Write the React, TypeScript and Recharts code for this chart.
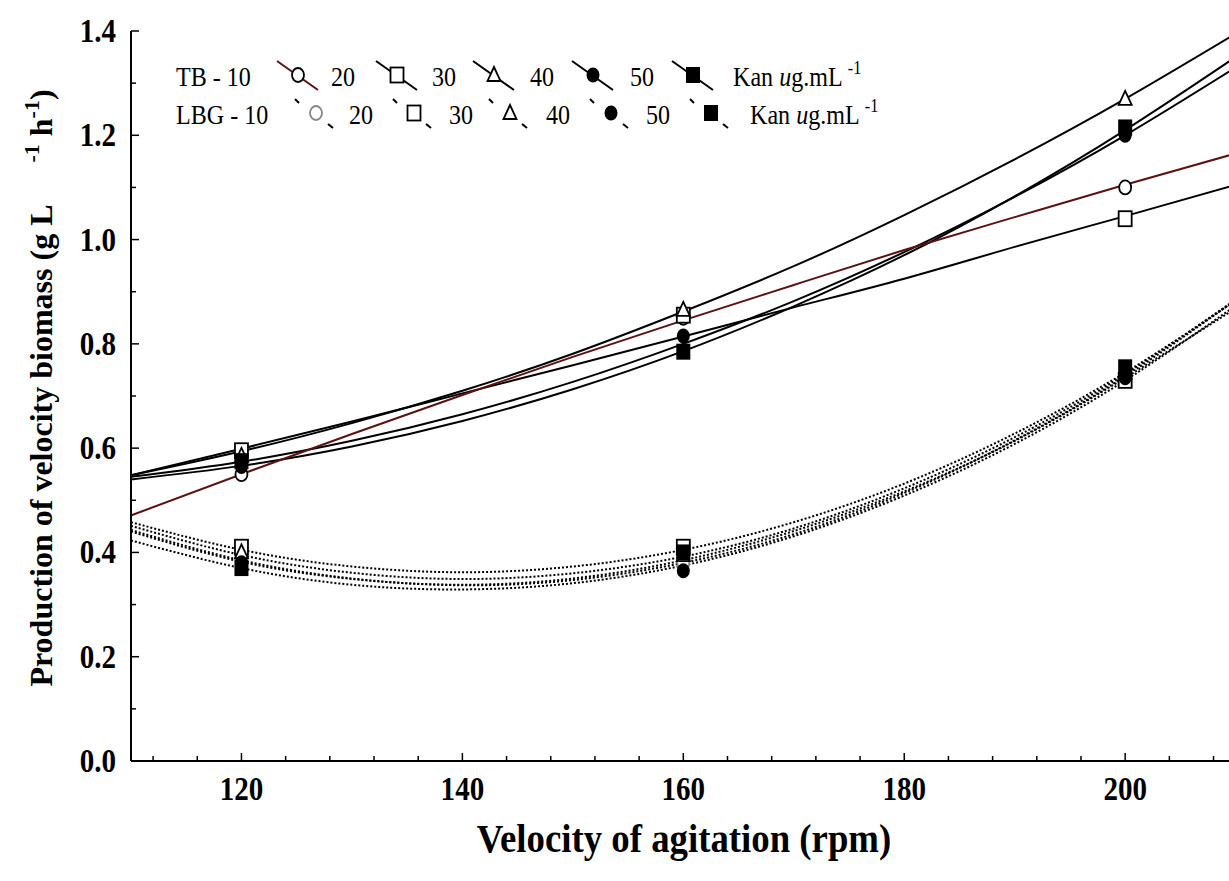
import React from 'react';
import { ComposedChart, Line, Scatter, XAxis, YAxis, Legend } from 'recharts';

const FONT = '"Liberation Serif", "Times New Roman", serif';

// sampled x positions of the fitted curves (rpm)
const curveX = [110, 120, 130, 140, 150, 160, 170, 180, 190, 200, 210];
// TB fitted curves (solid)
const tbCurve10 = [0.471, 0.55, 0.627, 0.702, 0.775, 0.845, 0.913, 0.98, 1.043, 1.105, 1.165];
const tbCurve20 = [0.548, 0.599, 0.651, 0.705, 0.759, 0.814, 0.87, 0.925, 0.986, 1.045, 1.105];
const tbCurve30 = [0.548, 0.594, 0.648, 0.71, 0.781, 0.862, 0.949, 1.047, 1.154, 1.27, 1.395];
const tbCurve40 = [0.54, 0.566, 0.603, 0.652, 0.713, 0.786, 0.872, 0.97, 1.083, 1.21, 1.35];
const tbCurve50 = [0.545, 0.574, 0.614, 0.665, 0.727, 0.8, 0.882, 0.976, 1.082, 1.2, 1.33];
// LBG fitted curves (dotted)
const lbgCurve10 = [0.451, 0.395, 0.361, 0.349, 0.36, 0.392, 0.446, 0.523, 0.621, 0.742, 0.885];
const lbgCurve20 = [0.458, 0.405, 0.373, 0.362, 0.373, 0.405, 0.458, 0.532, 0.628, 0.745, 0.883];
const lbgCurve30 = [0.443, 0.385, 0.35, 0.337, 0.347, 0.38, 0.435, 0.514, 0.615, 0.738, 0.884];
const lbgCurve40 = [0.423, 0.37, 0.338, 0.329, 0.341, 0.375, 0.431, 0.509, 0.608, 0.73, 0.873];
const lbgCurve50 = [0.44, 0.382, 0.349, 0.338, 0.35, 0.385, 0.441, 0.517, 0.614, 0.735, 0.868];

// measured points
const pointX = [120, 160, 200];
const tb10Pts = [0.55, 0.85, 1.1];
const tb20Pts = [0.595, 0.855, 1.04];
const tb30Pts = [0.585, 0.865, 1.27];
const tb40Pts = [0.565, 0.815, 1.2];
const tb50Pts = [0.575, 0.785, 1.215];
const lbg10Pts = [0.39, 0.38, 0.74];
const lbg20Pts = [0.41, 0.41, 0.73];
const lbg30Pts = [0.4, 0.395, 0.745];
const lbg40Pts = [0.38, 0.365, 0.735];
const lbg50Pts = [0.37, 0.4, 0.755];

const xTicks = [112, 116, 120, 124, 128, 132, 136, 140, 144, 148, 152, 156, 160, 164, 168, 172, 176, 180, 184, 188, 192, 196, 200, 204, 208];
const xLabels = [120, 140, 160, 180, 200];
const yTicks = [0, 0.1, 0.2, 0.3, 0.4, 0.5, 0.6, 0.7, 0.8, 0.9, 1.0, 1.1, 1.2, 1.3, 1.4];
const yLabels = ['0.0', '0.2', '0.4', '0.6', '0.8', '1.0', '1.2', '1.4'];

const legendNums = ['20', '30', '40', '50'];

const RED = '#5a1212';

const toLine = (ys: number[]) => curveX.map((x, i) => ({ x, y: ys[i] }));
const toPts = (ys: number[]) => pointX.map((x, i) => ({ x, y: ys[i] }));

type Kind = 'circle' | 'square' | 'triangle' | 'fcircle' | 'fsquare';

const Marker = ({ kind, cx, cy, stroke = '#000' }: { kind: Kind; cx: number; cy: number; stroke?: string }) => {
  const sw = 1.8;
  switch (kind) {
    case 'circle':
      return <ellipse cx={cx} cy={cy} rx={6} ry={7} fill="#fff" stroke={stroke} strokeWidth={sw} />;
    case 'square':
      return <rect x={cx - 6.5} y={cy - 7.5} width={13} height={15} fill="#fff" stroke={stroke} strokeWidth={sw} />;
    case 'triangle':
      return (
        <polygon
          points={`${cx},${cy - 8} ${cx + 6.5},${cy + 6} ${cx - 6.5},${cy + 6}`}
          fill="#fff"
          stroke={stroke}
          strokeWidth={sw}
        />
      );
    case 'fcircle':
      return <ellipse cx={cx} cy={cy} rx={6.5} ry={7.5} fill="#000" />;
    case 'fsquare':
      return <rect x={cx - 7} y={cy - 8} width={14} height={16} fill="#000" />;
  }
  return null;
};

const shapeOf = (kind: Kind, stroke?: string) => (p: any) => <Marker kind={kind} cx={p.cx} cy={p.cy} stroke={stroke} />;

// condensed text helper (the original typeface is a narrow Times)
const CText = ({ x, y, sx = 0.88, children, ...rest }: any) => (
  <g transform={`translate(${x},${y}) scale(${sx},1)`}>
    <text x={0} y={0} fontFamily={FONT} fill="#000" {...rest}>
      {children}
    </text>
  </g>
);

const YTick = (props: any) => {
  const { x, y, payload } = props;
  const v: number = payload.value;
  const major = Math.round(v * 10) % 2 === 0;
  const idx = Math.round(v * 5);
  return (
    <g>
      <line x1={x} y1={y} x2={x + (major ? 8 : 5)} y2={y} stroke="#000" strokeWidth={1.5} />
      {major && (
        <CText x={x - 15} y={y + 11} textAnchor="end" fontWeight="bold" fontSize={33}>
          {yLabels[idx]}
        </CText>
      )}
    </g>
  );
};

const XTick = (props: any) => {
  const { x, y, payload } = props;
  const v: number = payload.value;
  const major = xLabels.includes(v);
  return (
    <g>
      <line x1={x} y1={y} x2={x} y2={y - (major ? 8 : 5)} stroke="#000" strokeWidth={1.5} />
      {major && (
        <CText x={x} y={y + 39} textAnchor="middle" fontWeight="bold" fontSize={33}>
          {v}
        </CText>
      )}
    </g>
  );
};

const kinds: Kind[] = ['circle', 'square', 'triangle', 'fcircle', 'fsquare'];

const LegendRow = ({ y, label, symX, numX, kanX, dotted, firstGray }: any) => {
  const items = [] as any[];
  symX.forEach((sx: number, i: number) => {
    const lineCol = !dotted && i === 0 ? RED : '#000';
    items.push(
      <g key={'s' + i}>
        {dotted ? (
          <>
            <line x1={sx - 21} y1={y - 19} x2={sx - 17} y2={y - 15} stroke="#000" strokeWidth={2} />
            <line x1={sx + 12} y1={y + 6} x2={sx + 17} y2={y + 10} stroke="#000" strokeWidth={2} />
          </>
        ) : (
          <line x1={sx - 21} y1={y - 19} x2={sx + 20} y2={y + 10} stroke={lineCol} strokeWidth={2} />
        )}
        <Marker kind={kinds[i]} cx={sx} cy={y - 5} stroke={dotted && i === 0 && firstGray ? '#888' : '#000'} />
      </g>
    );
  });
  return (
    <g>
      <CText x={176} y={y + 6} fontSize={28} sx={0.86}>
        {label}
      </CText>
      {legendNums.map((n, i) => (
        <CText key={n} x={numX[i]} y={y + 6} fontSize={28} sx={0.86}>
          {n}
        </CText>
      ))}
      {items}
      <CText x={kanX} y={y + 6} fontSize={28} sx={0.86}>
        Kan <tspan fontStyle="italic">u</tspan>g.mL
        <tspan fontSize={19} dy={-12} dx={6}>-1</tspan>
      </CText>
    </g>
  );
};

const renderLegend = () => (
  <svg width={1229} height={150} style={{ display: 'block' }}>
    <LegendRow
      y={80}
      label="TB - 10"
      symX={[298, 397, 494, 593, 693]}
      numX={[331, 432, 530, 630]}
      kanX={733}
      dotted={false}
    />
    <LegendRow
      y={118}
      label="LBG - 10"
      symX={[316, 414, 510, 611, 711]}
      numX={[349, 449, 546, 646]}
      kanX={750}
      dotted={true}
      firstGray={true}
    />
  </svg>
);

export default function App() {
  const solid = { stroke: '#000', strokeWidth: 2 };
  const dotted = { stroke: '#000', strokeWidth: 2, strokeDasharray: '2 2' };
  return (
    <div style={{ position: 'absolute', left: 0, top: 0, width: 1229, height: 881, background: '#fff' }}>
      <ComposedChart width={1229} height={881} margin={{ top: 31, right: 0, bottom: 0, left: 0 }}>
        <XAxis
          type="number"
          dataKey="x"
          domain={[110, 209.4]}
          allowDataOverflow
          ticks={xTicks}
          interval={0}
          tickLine={false}
          tickSize={0}
          tickMargin={0}
          tick={<XTick />}
          axisLine={{ stroke: '#000', strokeWidth: 2 }}
          height={120}
        />
        <YAxis
          type="number"
          domain={[0, 1.4]}
          allowDataOverflow
          ticks={yTicks}
          interval={0}
          tickLine={false}
          tickSize={0}
          tickMargin={0}
          tick={<YTick />}
          axisLine={{ stroke: '#000', strokeWidth: 2 }}
          width={131}
        />
        <Legend
          layout="vertical"
          align="center"
          verticalAlign="middle"
          content={renderLegend}
          wrapperStyle={{ position: 'absolute', left: 0, top: 0, width: 1229, height: 150, pointerEvents: 'none' }}
        />

        <Line data={toLine(lbgCurve10)} dataKey="y" type="natural" dot={false} activeDot={false} isAnimationActive={false} {...dotted} />
        <Line data={toLine(lbgCurve20)} dataKey="y" type="natural" dot={false} activeDot={false} isAnimationActive={false} {...dotted} />
        <Line data={toLine(lbgCurve30)} dataKey="y" type="natural" dot={false} activeDot={false} isAnimationActive={false} {...dotted} />
        <Line data={toLine(lbgCurve40)} dataKey="y" type="natural" dot={false} activeDot={false} isAnimationActive={false} {...dotted} />
        <Line data={toLine(lbgCurve50)} dataKey="y" type="natural" dot={false} activeDot={false} isAnimationActive={false} {...dotted} />

        <Line data={toLine(tbCurve20)} dataKey="y" type="natural" dot={false} activeDot={false} isAnimationActive={false} {...solid} />
        <Line data={toLine(tbCurve30)} dataKey="y" type="natural" dot={false} activeDot={false} isAnimationActive={false} {...solid} />
        <Line data={toLine(tbCurve40)} dataKey="y" type="natural" dot={false} activeDot={false} isAnimationActive={false} {...solid} />
        <Line data={toLine(tbCurve50)} dataKey="y" type="natural" dot={false} activeDot={false} isAnimationActive={false} {...solid} />
        <Line data={toLine(tbCurve10)} dataKey="y" type="natural" dot={false} activeDot={false} isAnimationActive={false} stroke={RED} strokeWidth={2} />

        <Scatter data={toPts(lbg10Pts)} dataKey="y" isAnimationActive={false} shape={shapeOf('circle', '#888')} />
        <Scatter data={toPts(lbg20Pts)} dataKey="y" isAnimationActive={false} shape={shapeOf('square')} />
        <Scatter data={toPts(lbg30Pts)} dataKey="y" isAnimationActive={false} shape={shapeOf('triangle')} />
        <Scatter data={toPts(lbg40Pts)} dataKey="y" isAnimationActive={false} shape={shapeOf('fcircle')} />
        <Scatter data={toPts(lbg50Pts)} dataKey="y" isAnimationActive={false} shape={shapeOf('fsquare')} />

        <Scatter data={toPts(tb10Pts)} dataKey="y" isAnimationActive={false} shape={shapeOf('circle')} />
        <Scatter data={toPts(tb20Pts)} dataKey="y" isAnimationActive={false} shape={shapeOf('square')} />
        <Scatter data={toPts(tb30Pts)} dataKey="y" isAnimationActive={false} shape={shapeOf('triangle')} />
        <Scatter data={toPts(tb40Pts)} dataKey="y" isAnimationActive={false} shape={shapeOf('fcircle')} />
        <Scatter data={toPts(tb50Pts)} dataKey="y" isAnimationActive={false} shape={shapeOf('fsquare')} />
      </ComposedChart>

      <svg width={1229} height={881} style={{ position: 'absolute', left: 0, top: 0, pointerEvents: 'none' }}>
        <CText x={684} y={852} sx={0.92} textAnchor="middle" fontWeight="bold" fontSize={40}>
          Velocity of agitation (rpm)
        </CText>
        <text
          transform="translate(52,388) rotate(-90)"
          textAnchor="middle"
          fontFamily={FONT}
          fontWeight="bold"
          fontSize={32}
          fill="#000"
        >
          Production of velocity biomass (g L
          <tspan dx={42} dy={-13} fontSize={22}>-1</tspan>
          <tspan dy={13}> h</tspan>
          <tspan dy={-13} fontSize={22}>-1</tspan>
          <tspan dy={13}>)</tspan>
        </text>
      </svg>
    </div>
  );
}
